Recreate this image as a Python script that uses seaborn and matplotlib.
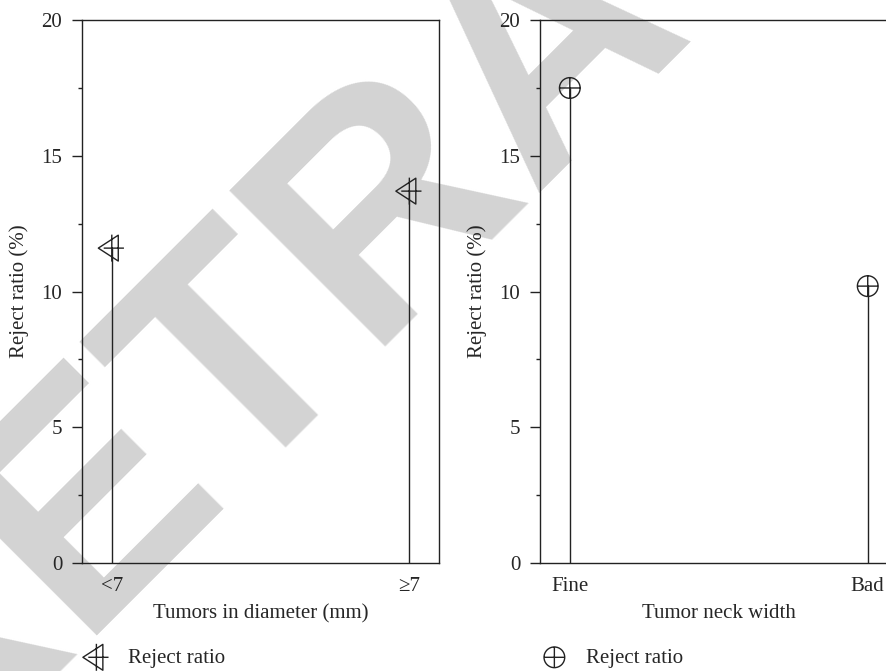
import numpy as np
import pandas as pd
import matplotlib.pyplot as plt
from matplotlib.path import Path
from matplotlib.ticker import MultipleLocator
import seaborn as sns

# values
diameter_cats = ['<7', '≥7']
diameter_ratio = [11.6, 13.7]
neck_cats = ['Fine', 'Bad']
neck_ratio = [17.5, 10.2]

sns.set_style('ticks')
plt.rcParams['font.family'] = ['Liberation Serif', 'DejaVu Serif']
plt.rcParams['font.size'] = 15

INK = '#222222'

# triangle-left with a cross through it
tri_plus = Path(
    [(-1, 0), (0.48, 0.96), (0.48, -0.96), (-1, 0),
     (-0.6, 0), (0.9, 0), (0, -1), (0, 1)],
    [Path.MOVETO, Path.LINETO, Path.LINETO, Path.CLOSEPOLY,
     Path.MOVETO, Path.LINETO, Path.MOVETO, Path.LINETO])

# circle with a cross
circ_plus = Path.make_compound_path(
    Path.unit_circle(),
    Path([(-1, 0), (1, 0), (0, -1), (0, 1)],
         [Path.MOVETO, Path.LINETO, Path.MOVETO, Path.LINETO]))


def draw_panel(ax, cats, vals, marker, size, xlabel):
    df = pd.DataFrame({'pos': range(len(cats)), 'ratio': vals})
    ax.vlines(df['pos'], 0, df['ratio'], color=INK, lw=1.0, zorder=2)
    sns.scatterplot(data=df, x='pos', y='ratio', marker=marker, s=size,
                    color=INK, facecolor='none', edgecolor=INK, linewidth=1.0,
                    label='Reject ratio', ax=ax, zorder=3)
    ax.set_xlim(-0.1, 1.1)
    ax.set_ylim(0, 20)
    ax.set_xticks(df['pos'])
    ax.set_xticklabels(cats)
    ax.yaxis.set_major_locator(MultipleLocator(5))
    ax.yaxis.set_minor_locator(MultipleLocator(2.5))
    ax.tick_params(axis='y', which='major', direction='out', length=7.2,
                   width=1, color=INK, pad=7, labelsize=15)
    ax.tick_params(axis='y', which='minor', direction='out', length=3,
                   width=1, color=INK)
    ax.tick_params(axis='x', length=0, pad=10, labelsize=15)
    for sp in ax.spines.values():
        sp.set_color(INK)
        sp.set_linewidth(1.0)
    ax.set_facecolor('none')
    ax.set_xlabel(xlabel, labelpad=6)
    ax.set_ylabel('Reject ratio (%)', labelpad=9)
    ax.legend(loc='upper left', bbox_to_anchor=(0.011, -0.157), frameon=False,
              borderaxespad=0, borderpad=0, handlelength=1.0,
              handletextpad=1.0, fontsize=15, scatterpoints=1)


fig = plt.figure(figsize=(8.86, 6.71), dpi=100)
fig.patch.set_facecolor('white')

# watermark, behind everything
fig.text(0.689, 0.849, 'RETRACTED', fontsize=230, family='Liberation Sans',
         weight='bold', color='#d3d3d3', rotation=45, rotation_mode='anchor',
         ha='center', va='baseline', zorder=-1)

ax1 = fig.add_axes([0.0926, 0.161, 0.403, 0.809])
ax2 = fig.add_axes([0.6095, 0.161, 0.4035, 0.809])

draw_panel(ax1, diameter_cats, diameter_ratio, tri_plus, 377, 'Tumors in diameter (mm)')
draw_panel(ax2, neck_cats, neck_ratio, circ_plus, 222, 'Tumor neck width')

fig.savefig('out.png', dpi=100)
